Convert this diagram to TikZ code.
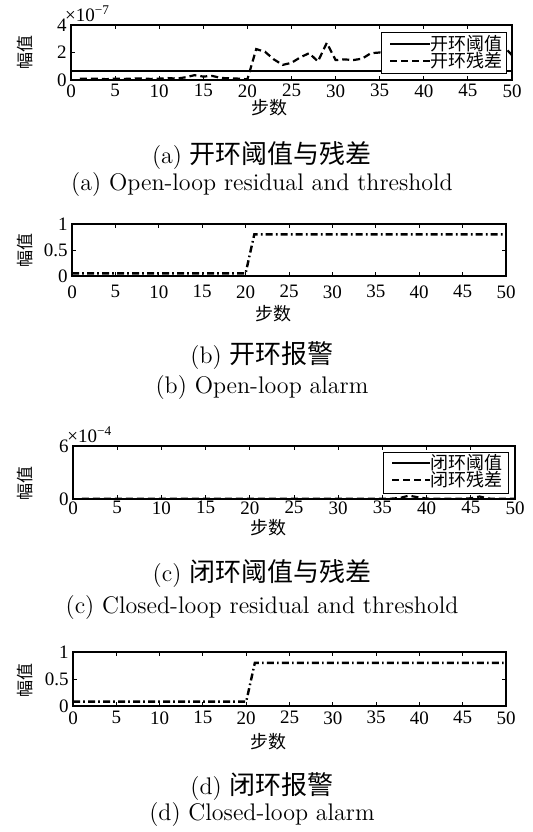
\documentclass[tikz,border=0pt]{standalone}
\usepackage{fontspec}
\newfontfamily\cjk{Noto Sans CJK SC}
\newfontfamily\numfont{Liberation Serif}
\tikzset{
  axbox/.style={line width=0.6pt},
  tickmark/.style={line width=0.5pt},
  ticklab/.style={font=\numfont\fontsize{9.5}{11}\selectfont,inner sep=0pt},
  ylab/.style={font=\cjk\fontsize{8.5}{9}\selectfont,rotate=90,inner sep=0pt},
  xlab/.style={font=\cjk\fontsize{9}{10}\selectfont,inner sep=0pt},
  capcn/.style={font=\fontsize{12}{14}\selectfont,inner sep=0pt},
  capen/.style={font=\fontsize{12}{14}\selectfont,inner sep=0pt},
  thresh/.style={line width=1pt},
  resid/.style={line width=1.1pt,dash pattern=on 3.5pt off 2pt},
  alarm/.style={line width=1.2pt,dash pattern=on 3.5pt off 1.6pt on 0.8pt off 1.6pt},
  legbox/.style={draw,fill=white,line width=0.5pt,inner sep=0pt},
  legtext/.style={font=\cjk\fontsize{9}{10}\selectfont,inner sep=0pt,anchor=west},
}
\begin{document}
\begin{tikzpicture}[x=0.5pt,y=-0.5pt]
\useasboundingbox (0,0) rectangle (532,832);

% ===== (a) 开环阈值与残差 =====
\begin{scope}[shift={(71,80)},x=4.41pt,y=6.875pt]
  \draw[thresh] (0,0.65) -- (50,0.65);
  \draw[resid] plot coordinates {(1,0.1) (2,0.08) (3,0.1) (4,0.06) (5,0.1)
    (6,0.08) (7,0.1) (8,0.12) (9,0.08) (10,0.1) (11,0.14) (12,0.1) (13,0.2)
    (14,0.35) (15,0.25) (16,0.3) (17,0.15) (18,0.12) (19,0.1) (20,0.05)
    (21,2.25) (22,2.05) (23,1.5) (24,1.1) (25,1.25) (26,1.65) (27,1.95)
    (28,1.35) (29,2.7) (30,1.45) (31,1.5) (32,1.45) (33,1.55) (34,1.95)
    (35,2.0) (36,1.8) (37,2.2) (38,1.6) (39,2.0) (40,1.7) (41,2.3) (42,1.5)
    (43,1.9) (44,2.1) (45,1.6) (46,2.2) (47,1.8) (48,1.9) (49,2.5) (50,1.8)};
  \draw[axbox] (0,0) rectangle (50,4);
  \foreach \x in {5,10,...,45} {
    \draw[tickmark] (\x,0) -- ++(0pt,2pt);
    \draw[tickmark] (\x,4) -- ++(0pt,-2pt);
  }
  \foreach \y in {0,2,4} {
    \draw[tickmark] (0,\y) -- ++(2pt,0pt);
    \draw[tickmark] (50,\y) -- ++(-2pt,0pt);
    \node[ticklab,anchor=east,xshift=-2pt] (ay\y) at (0,\y) {\y};
  }
  \foreach \x in {0,5,...,50}
    \node[ticklab,anchor=north,yshift=-2pt] (ax\x) at (\x,0) {\x};
  \node[ticklab,anchor=base west] (aexp) at (-0.7,4.22) {×10\textsuperscript{−7}};
\end{scope}
\node[ylab] (aylab) at (25,52) {幅值};
\node[xlab] (axlab) at (269,108) {步数};
\node[legbox,minimum width=62.5pt,minimum height=20.5pt] (aleg) at (443.5,52.5) {};
\draw[thresh] (390,44) -- (430,44);
\draw[resid] (390,61) -- (430,61);
\node[legtext] (aleg1) at (430,44) {开环阈值};
\node[legtext] (aleg2) at (430,61) {开环残差};
\node[capcn] (acn) at (262,156) {(a) {\cjk\fontsize{13}{15}\selectfont 开环阈值与残差}};
\node[capen] (aen) at (262,185) {(a) Open-loop residual and threshold};

% ===== (b) 开环报警 =====
\begin{scope}[shift={(72,276)},x=4.34pt,y=26pt]
  \draw[alarm] (0,0.05) -- (20,0.05) -- (21,0.8) -- (50,0.8);
  \draw[axbox] (0,0) rectangle (50,1);
  \foreach \x in {5,10,...,45} {
    \draw[tickmark] (\x,0) -- ++(0pt,2pt);
    \draw[tickmark] (\x,1) -- ++(0pt,-2pt);
  }
  \foreach \y [count=\i] in {0,0.5,1} {
    \draw[tickmark] (0,\y) -- ++(2pt,0pt);
    \draw[tickmark] (50,\y) -- ++(-2pt,0pt);
    \node[ticklab,anchor=east,xshift=-2pt] (by\i) at (0,\y) {\y};
  }
  \foreach \x in {0,5,...,50}
    \node[ticklab,anchor=north,yshift=-4.5pt] (bx\x) at (\x,0) {\x};
\end{scope}
\node[ylab] (bylab) at (25,250) {幅值};
\node[xlab] (bxlab) at (274,314) {步数};
\node[capcn] (bcn) at (262,356) {(b) {\cjk\fontsize{13}{15}\selectfont 开环报警}};
\node[capen] (ben) at (262,388) {(b) Open-loop alarm};

% ===== (c) 闭环阈值与残差 =====
\begin{scope}[shift={(73,499)},x=4.42pt,y=4.4167pt]
  \draw[thresh] (0,0.05) -- (50,0.05);
  \draw[resid] plot coordinates {(1,0.02) (2,0.03) (3,0.02) (4,0.02) (5,0.03)
    (6,0.02) (7,0.02) (8,0.03) (9,0.02) (10,0.02) (11,0.03) (12,0.02) (13,0.02)
    (14,0.03) (15,0.02) (16,0.02) (17,0.03) (18,0.02) (19,0.02) (20,0.03)
    (21,0.02) (22,0.02) (23,0.03) (24,0.02) (25,0.02) (26,0.03) (27,0.02)
    (28,0.02) (29,0.03) (30,0.02) (31,0.02) (32,0.03) (33,0.02) (34,0.02)
    (35,0.03) (36,0.04) (37,0.12) (38,0.38) (39,0.2) (40,0.05) (41,0.03)
    (42,0.02) (43,0.03) (44,0.04) (45,0.08) (46,0.28) (47,0.05) (48,0.03)
    (49,0.02) (50,0.03)};
  \draw[axbox] (0,0) rectangle (50,6);
  \foreach \x in {5,10,...,45} {
    \draw[tickmark] (\x,0) -- ++(0pt,2pt);
    \draw[tickmark] (\x,6) -- ++(0pt,-2pt);
  }
  \foreach \y in {0,6} {
    \draw[tickmark] (0,\y) -- ++(2pt,0pt);
    \draw[tickmark] (50,\y) -- ++(-2pt,0pt);
    \node[ticklab,anchor=east,xshift=-2pt] (cy\y) at (0,\y) {\y};
  }
  \foreach \x in {0,5,...,50}
    \node[ticklab,anchor=north,yshift=-1pt] (cx\x) at (\x,0) {\x};
  \node[ticklab,anchor=base west] (cexp) at (-0.68,6.35) {×10\textsuperscript{−4}};
\end{scope}
\node[ylab] (cylab) at (25,483) {幅值};
\node[xlab] (cxlab) at (268,528) {步数};
\node[legbox,minimum width=62.5pt,minimum height=20.5pt] (cleg) at (445.5,472.5) {};
\draw[thresh] (392,463) -- (430,463);
\draw[resid] (392,480) -- (430,480);
\node[legtext] (cleg1) at (430,463) {闭环阈值};
\node[legtext] (cleg2) at (430,480) {闭环残差};
\node[capcn] (ccn) at (262,574) {(c) {\cjk\fontsize{13}{15}\selectfont 闭环阈值与残差}};
\node[capen] (cen) at (262,608) {(c) Closed-loop residual and threshold};

% ===== (d) 闭环报警 =====
\begin{scope}[shift={(73,706)},x=4.33pt,y=27pt]
  \draw[alarm] (0,0.08) -- (20,0.08) -- (21,0.8) -- (50,0.8);
  \draw[axbox] (0,0) rectangle (50,1);
  \foreach \x in {5,10,...,45} {
    \draw[tickmark] (\x,0) -- ++(0pt,2pt);
    \draw[tickmark] (\x,1) -- ++(0pt,-2pt);
  }
  \foreach \y [count=\i] in {0,0.5,1} {
    \draw[tickmark] (0,\y) -- ++(2pt,0pt);
    \draw[tickmark] (50,\y) -- ++(-2pt,0pt);
    \node[ticklab,anchor=east,xshift=-2pt] (dy\i) at (0,\y) {\y};
  }
  \foreach \x in {0,5,...,50}
    \node[ticklab,anchor=north,yshift=-2.5pt] (dx\x) at (\x,0) {\x};
\end{scope}
\node[ylab] (dylab) at (25,680) {幅值};
\node[xlab] (dxlab) at (268,742) {步数};
\node[capcn] (dcn) at (262,787) {(d) {\cjk\fontsize{13}{15}\selectfont 闭环报警}};
\node[capen] (den) at (262,815) {(d) Closed-loop alarm};

\end{tikzpicture}
\end{document}
